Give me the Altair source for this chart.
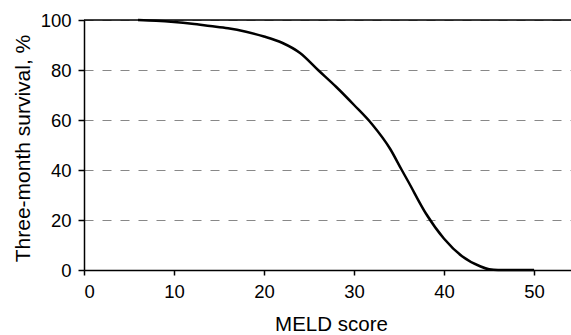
import altair as alt
import pandas as pd

meld = [6, 8, 10, 12, 14, 16, 18, 20, 22, 24, 26, 28, 30, 32, 34, 35.3, 36, 38, 40, 42, 44, 45, 46, 48, 50]
survival = [100, 99.7, 99.2, 98.5, 97.6, 96.7, 95.3, 93.4, 90.9, 86.8, 80, 73.3, 66, 58.3, 48.5, 40, 35.5, 22.5, 12.5, 5.5, 1.5, 0.3, 0, 0, 0]
x_ticks = [0, 10, 20, 30, 40, 50]
y_ticks = [0, 20, 40, 60, 80, 100]

df = pd.DataFrame({"meld": meld, "survival": survival})
top_df = pd.DataFrame({"y": [100]})

FONT = "Liberation Sans"

x_scale = alt.Scale(domain=[0, 54.1], nice=False, zero=False)
y_scale = alt.Scale(domain=[0, 100], nice=False)

line = alt.Chart(df).mark_line(
    color="black", strokeWidth=2.5, interpolate="monotone"
).encode(
    x=alt.X("meld:Q", scale=x_scale,
            axis=alt.Axis(values=x_ticks, title="MELD score", grid=False,
                          domainColor="black", domainWidth=1.5,
                          tickColor="black", tickSize=5, tickWidth=1.5,
                          labelPadding=7, labelFontSize=18.5, labelFont=FONT,
                          labelColor="black", titleFont=FONT, titleFontSize=20.5,
                          titleFontWeight="normal", titleColor="black",
                          titleX=247, titleY=60, titleBaseline="alphabetic",
                          titleAnchor="middle")),
    y=alt.Y("survival:Q", scale=y_scale,
            axis=alt.Axis(values=y_ticks, title="Three-month survival, %",
                          grid=True, gridDash=[9, 9], gridColor="#888888",
                          gridWidth=1.2,
                          domainColor="black", domainWidth=1.5,
                          tickColor="black", tickSize=6, tickWidth=1.5,
                          labelPadding=7, labelFontSize=18.5, labelFont=FONT,
                          labelColor="black", titleFont=FONT, titleFontSize=21,
                          titleFontWeight="normal", titleColor="black",
                          titleX=-55, titleY=128, titleAngle=270,
                          titleBaseline="alphabetic", titleAnchor="middle")),
)

top_rule = alt.Chart(top_df).mark_rule(color="black", strokeWidth=1.5).encode(
    y=alt.Y("y:Q", scale=y_scale)
)

chart = alt.layer(top_rule, line).properties(
    width=487, height=250,
    padding={"left": 84, "top": 20, "right": 0, "bottom": 65},
    autosize=alt.AutoSizeParams(type="none"),
).configure_view(stroke=None).configure(background="white")

chart.save("out.html", embed_options={"renderer": "svg", "actions": False})
